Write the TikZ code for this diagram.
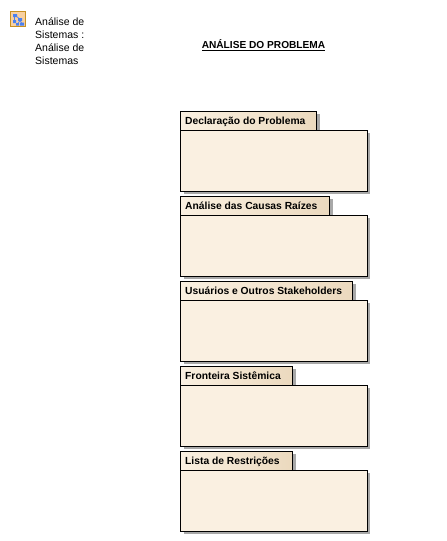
\documentclass[tikz,border=0pt]{standalone}
\usepackage{fontspec}
\setmainfont{Liberation Sans}
\definecolor{bodyfill}{HTML}{FAF0E1}
\definecolor{tabfill}{HTML}{EBD9BE}
\definecolor{shadowc}{HTML}{A8A8A8}
\definecolor{iconedge}{HTML}{C89020}
\definecolor{iconfill}{HTML}{F8D0A0}
\definecolor{iconblue}{HTML}{4A80F0}
\tikzset{
  x=1pt,y=-1pt,
  shadowbox/.style={fill=shadowc,draw=none},
  panelbody/.style={draw=black,line width=1pt,fill=bodyfill},
  paneltab/.style={draw=black,line width=1pt,left color=bodyfill,right color=tabfill},
  tablabel/.style={anchor=base west,inner sep=0pt,font=\fontsize{10.3}{12}\selectfont\bfseries},
  sidelabel/.style={anchor=north west,inner sep=0pt,align=left,font=\fontsize{10.5}{13}\selectfont},
  titlelabel/.style={anchor=base,inner sep=0pt,font=\fontsize{10.15}{12}\selectfont\bfseries},
}
\newcommand{\panel}[4]{%
  \fill[shadowbox] (183.5,#1+3) rectangle (#2+2.5,#1+19);
  \fill[shadowbox] (183.5,#1+22) rectangle (369.5,#1+82.5);
  \draw[paneltab] (180.5,#1+.5) rectangle (#2-.5,#1+19.5);
  \draw[panelbody] (180.5,#1+19.5) rectangle (367.5,#1+80.5);
  \node[tablabel] (#4) at (185,#1+13) {#3};
}
\begin{document}
\begin{tikzpicture}
\useasboundingbox (0,0) rectangle (447,541);
\fill[white] (0,0) rectangle (447,541);
% icon
\draw[draw=iconedge,line width=1pt,fill=iconfill] (10.5,11.5) rectangle (25.5,26.5);
\fill[iconblue] (13,14) rectangle (17,17) (18,18) rectangle (22,21) (13,20) rectangle (16,23) (16,23) rectangle (19,25.5) (20,22.5) rectangle (24,25.5);
\draw[iconblue,line width=.6pt] (16,16) -- (20,19) (14.5,17) -- (14.5,20) (20,21) -- (18,23) (20,21) -- (22,23);
\node[sidelabel] (side) at (35,17.3) {Análise de\\Sistemas :\\Análise de\\Sistemas};
\node[titlelabel] (title) at (263.5,48.5) {ANÁLISE DO PROBLEMA};
\draw[line width=1pt] (202,50.5) -- (325,50.5);
\panel{111}{317}{Declaração do Problema}{p1}
\panel{196}{330}{Análise das Causas Raízes}{p2}
\panel{281}{353}{Usuários e Outros Stakeholders}{p3}
\panel{366}{293}{Fronteira Sistêmica}{p4}
\panel{451}{293}{Lista de Restrições}{p5}
\end{tikzpicture}
\end{document}
